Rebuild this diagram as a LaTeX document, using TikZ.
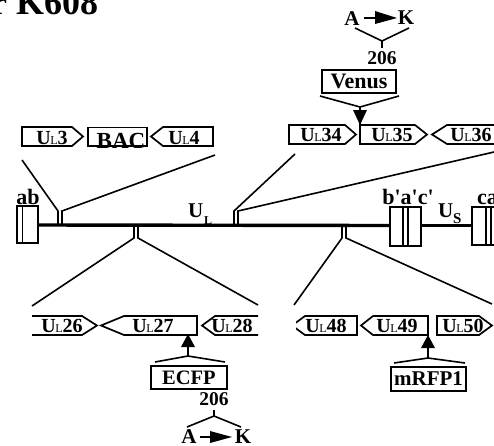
\documentclass[tikz,border=0pt]{standalone}
\usepackage{fontspec}
\setmainfont{Liberation Serif}
\newfontfamily\straightfont{Liberation Serif}
\newcommand{\glabel}[1]{\fontsize{20}{20}\selectfont\bfseries U\kern-0.5pt{\fontsize{12}{12}\selectfont\mdseries L}#1}
\tikzset{
  x=1pt,y=-1pt,
  gene/.style={draw=black,line width=1.7pt,line join=miter},
  thin line/.style={draw=black,line width=1.6pt},
  boxnode/.style={draw=black,line width=1.7pt,fill=white,inner sep=0pt,anchor=north west},
  lab/.style={inner sep=0pt,anchor=base,font=\bfseries},
  num/.style={inner sep=0pt,anchor=base,font=\fontsize{19.5}{19.5}\selectfont\bfseries},
  glab/.style={inner sep=0pt,anchor=base},
  arr/.style={fill=black,draw=none},
  backbone/.style={draw=black,line width=3.4pt},
  region/.style={draw=black,line width=1.6pt,fill=white},
}
\begin{document}
\begin{tikzpicture}
\useasboundingbox (0,0) rectangle (494,445);
\clip (0,0) rectangle (494,445);

% title
\node[lab,font=\fontsize{36}{36}\selectfont\bfseries,anchor=base west] (title) at (-9,14) {r K608};

% backbone
\coordinate (bbL) at (37,225);
\coordinate (bbR) at (390,225.5);
\draw[backbone] (bbL) -- (bbR);
\draw[backbone] (421,225.5) -- (472,225.5);

% repeat regions
\draw[region] (17,206) rectangle (38,243);
\draw[thin line] (22.5,206) -- (22.5,243);
\draw[region] (390,207) rectangle (421,246);
\draw[thin line] (403,207) -- (403,246);
\draw[thin line] (408,207) -- (408,246);
\draw[region] (472,207) rectangle (500,245);
\draw[thin line] (486,207) -- (486,245);
\draw[thin line] (491,207) -- (491,245);

\node[lab,font=\fontsize{22}{22}\selectfont\bfseries] (ab) at (28,204) {ab};
\node[lab,font=\fontsize{22}{22}\straightfont\bfseries] (bac) at (408,204) {b'a'c'};
\node[lab,font=\fontsize{22}{22}\selectfont\bfseries,anchor=base west] (ca) at (477,204) {ca};
\node[lab,anchor=base west,font=\fontsize{21}{21}\selectfont\bfseries] (ul) at (188,217) {U};
\node[lab,anchor=base west,font=\fontsize{12}{12}\selectfont\bfseries] (ull) at (204,224) {L};
\node[lab,anchor=base west,font=\fontsize{21}{21}\selectfont\bfseries] (us) at (438,217) {U};
\node[lab,anchor=base west,font=\fontsize{15}{15}\selectfont\bfseries] (uss) at (453,223) {S};

% fan UL3/BAC/UL4
\coordinate (f1a) at (22,160); \coordinate (f1b) at (58,211); \coordinate (f1c) at (58,224);
\coordinate (f1d) at (215,155); \coordinate (f1e) at (62,211); \coordinate (f1f) at (62,224);
\draw[thin line] (f1a) -- (f1b) -- (f1c);
\draw[thin line] (f1d) -- (f1e) -- (f1f);
% fan UL34..36
\coordinate (f2a) at (295,154); \coordinate (f2b) at (234,211); \coordinate (f2c) at (234,224);
\coordinate (f2d) at (494,152); \coordinate (f2e) at (238,211); \coordinate (f2f) at (238,224);
\draw[thin line] (f2a) -- (f2b) -- (f2c);
\draw[thin line] (f2d) -- (f2e) -- (f2f);
% fan UL26..28
\coordinate (f3a) at (32,306); \coordinate (f3b) at (134,238); \coordinate (f3c) at (134,226);
\coordinate (f3d) at (258,305); \coordinate (f3e) at (138,238); \coordinate (f3f) at (138,226);
\draw[thin line] (f3a) -- (f3b) -- (f3c);
\draw[thin line] (f3d) -- (f3e) -- (f3f);
% fan UL48..50
\coordinate (f4a) at (294,305); \coordinate (f4b) at (342,238); \coordinate (f4c) at (342,226);
\coordinate (f4d) at (492,304); \coordinate (f4e) at (346,238); \coordinate (f4f) at (346,226);
\draw[thin line] (f4a) -- (f4b) -- (f4c);
\draw[thin line] (f4d) -- (f4e) -- (f4f);

% genes upper left
\draw[gene] (22,127) -- (72,127) -- (83,136.5) -- (72,146) -- (22,146) -- cycle;
\node[glab] (ul3) at (52,144) {\glabel{3}};
\draw[gene] (151,136.5) -- (163,127) -- (213,127) -- (213,146) -- (163,146) -- cycle;
\node[glab] (ul4) at (184,144) {\glabel{4}};
\begin{scope}
\clip (80,120) rectangle (155,147.5);
\draw[gene] (88,127.5) rectangle (147,146);
\node[lab,font=\fontsize{23}{23}\selectfont\bfseries] (bacg) at (121,148) {BAC};
\end{scope}

% genes upper right
\draw[gene] (289,125) -- (345,125) -- (356,134.5) -- (345,144) -- (289,144) -- cycle;
\node[glab] (ul34) at (321,141) {\glabel{34}};
\draw[gene] (360,125) -- (415,125) -- (427,134.5) -- (415,144) -- (360,144) -- cycle;
\node[glab] (ul35) at (392,141) {\glabel{35}};
\draw[gene] (500,125) -- (447,125) -- (432,134.5) -- (447,144) -- (500,144);
\node[glab] (ul36) at (471,141) {\glabel{36}};

% Venus insertion
\node[boxnode,minimum width=74pt,minimum height=23pt,anchor=center,font=\fontsize{22}{22}\selectfont\bfseries] (venus) at (359,81.5) {Venus};
\coordinate (v1) at (320,96); \coordinate (v2) at (360,107); \coordinate (v3) at (399,96);
\draw[thin line] (v1) -- (v2) -- (v3);
\draw[thin line] (v2) -- (360,125);
\fill[arr] (353,110) -- (367,110) -- (360,125) -- cycle;
\node[num] (n206a) at (382,64) {206};
\coordinate (c1) at (355,28); \coordinate (c2) at (382,41); \coordinate (c3) at (409,28); \coordinate (c4) at (382,48);
\draw[thin line] (c1) -- (c2) -- (c3);
\draw[thin line] (c2) -- (c4);
\node[lab,font=\fontsize{21}{21}\selectfont\bfseries] (a1) at (352,25) {A};
\node[lab,font=\fontsize{21}{21}\selectfont\bfseries] (k1) at (406,24) {K};
\draw[line width=1.6pt] (364,18) -- (380,18);
\fill[arr] (375,11) -- (397,18) -- (375,24) -- cycle;

% genes lower left
\draw[gene] (32,316) -- (82,316) -- (97,325.5) -- (82,335) -- (32,335);
\node[glab] (ul26) at (62,332) {\glabel{26}};
\draw[gene] (101,325.5) -- (124,316) -- (197,316) -- (197,335) -- (124,335) -- cycle;
\node[glab] (ul27) at (153,332) {\glabel{27}};
\draw[gene] (258,316) -- (215,316) -- (202,325.5) -- (215,335) -- (258,335);
\node[glab] (ul28) at (232,332) {\glabel{28}};

% ECFP insertion
\draw[thin line] (188,345) -- (188,356);
\fill[arr] (181,347) -- (195,347) -- (188,334) -- cycle;
\coordinate (e1) at (155,362); \coordinate (e2) at (188,356); \coordinate (e3) at (225,362);
\draw[thin line] (e1) -- (e2) -- (e3);
\node[boxnode,minimum width=76pt,minimum height=23pt,anchor=center,font=\fontsize{20.5}{20.5}\selectfont\bfseries] (ecfp) at (189,377.5) {ECFP};
\node[num] (n206b) at (214,405) {206};
\coordinate (d1) at (187,427); \coordinate (d2) at (214,416); \coordinate (d3) at (241,427); \coordinate (d4) at (214,410);
\draw[thin line] (d1) -- (d2) -- (d3);
\draw[thin line] (d2) -- (d4);
\node[lab,font=\fontsize{21}{21}\selectfont\bfseries] (a2) at (189,443.5) {A};
\node[lab,font=\fontsize{21}{21}\selectfont\bfseries] (k2) at (243,443.5) {K};
\draw[line width=1.6pt] (200,437) -- (216,437);
\fill[arr] (210,431) -- (232,437) -- (210,443) -- cycle;

% genes lower right
\begin{scope}
\clip (296,310) rectangle (360,340);
\draw[gene] (292,325.5) -- (305,316) -- (357,316) -- (357,335) -- (305,335) -- cycle;
\end{scope}
\node[glab] (ul48) at (326,332) {\glabel{48}};
\draw[gene] (361,325.5) -- (373,316) -- (428,316) -- (428,335) -- (373,335) -- cycle;
\node[glab] (ul49) at (397,332) {\glabel{49}};
\draw[gene] (437,316) -- (479,316) -- (492,325.5) -- (479,335) -- (437,335) -- cycle;
\node[glab] (ul50) at (463,332) {\glabel{50}};

% mRFP1 insertion
\draw[thin line] (428,345) -- (428,358);
\fill[arr] (421,348) -- (435,348) -- (428,335) -- cycle;
\coordinate (m1) at (394,363); \coordinate (m2) at (428,358); \coordinate (m3) at (465,363);
\draw[thin line] (m1) -- (m2) -- (m3);
\node[boxnode,minimum width=75pt,minimum height=24pt,anchor=center,font=\fontsize{21}{21}\selectfont\bfseries] (mrfp) at (428.5,379) {mRFP1};
\end{tikzpicture}
\end{document}
